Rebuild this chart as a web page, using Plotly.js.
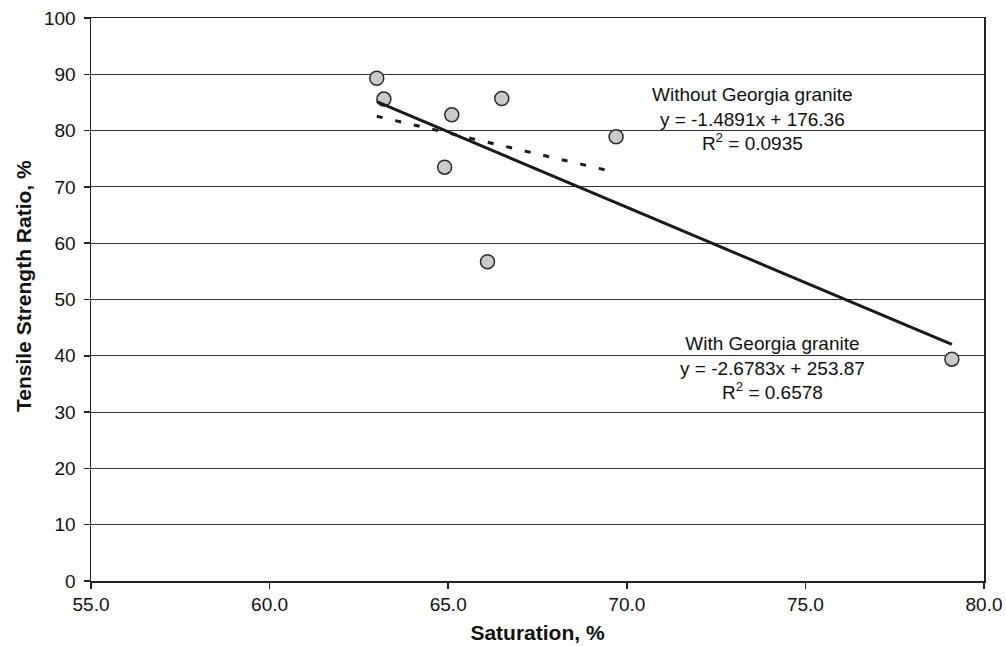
<!DOCTYPE html>
<html>
<head>
<meta charset="utf-8">
<script src="https://cdn.plot.ly/plotly-3.0.1.min.js"></script>
<style>
  html, body { margin: 0; padding: 0; background: #fff; }
  #chart { width: 1006px; height: 646px; }
</style>
</head>
<body>
<div id="chart"></div>
<script>
// Data
const saturation = [63.0, 63.2, 65.1, 66.5, 69.7, 64.9, 66.1, 79.1];
const tensileRatio = [89.3, 85.6, 82.8, 85.7, 78.9, 73.5, 56.7, 39.4];
const isGeorgia = [false, false, false, false, false, false, false, true];

// Trend lines as reported on the chart
const fitNames = ["With Georgia granite", "Without Georgia granite"];
const fitSlopes = [-2.6783, -1.4891];
const fitIntercepts = [253.87, 176.36];
const fitR2 = ["0.6578", "0.0935"];
const fitIncludesGeorgia = [true, false];

const xTicks = [55, 60, 65, 70, 75, 80];
const xTickText = ["55.0", "60.0", "65.0", "70.0", "75.0", "80.0"];
const yTicks = [0, 10, 20, 30, 40, 50, 60, 70, 80, 90, 100];
const xTitle = 'Saturation, %';
const yTitle = 'Tensile Strength Ratio, %';

const FONT = '"Liberation Sans", Arial, Helvetica, sans-serif';

function fitLine(i) {
  const xs = saturation.filter((x, k) => fitIncludesGeorgia[i] || !isGeorgia[k]);
  const x0 = Math.min(...xs), x1 = Math.max(...xs);
  return {
    x: [x0, x1],
    y: [fitSlopes[i] * x0 + fitIntercepts[i], fitSlopes[i] * x1 + fitIntercepts[i]]
  };
}

const withFit = fitLine(0);
const withoutFit = fitLine(1);

const traces = [
  {
    x: saturation, y: tensileRatio, type: 'scatter', mode: 'markers',
    marker: { size: 14, color: '#c9cacc', line: { color: '#2a2a2a', width: 1.5 } },
    showlegend: false
  },
  {
    x: withFit.x, y: withFit.y, type: 'scatter', mode: 'lines',
    line: { color: '#1a1a1a', width: 3 }, hoverinfo: 'skip', showlegend: false
  },
  {
    x: withoutFit.x, y: withoutFit.y, type: 'scatter', mode: 'lines',
    line: { color: '#1a1a1a', width: 3, dash: '6px,13px' }, hoverinfo: 'skip', showlegend: false
  }
];

function fitText(i) {
  const sign = fitIntercepts[i] >= 0 ? '+' : '-';
  return fitNames[i] + '<br>y = ' + fitSlopes[i].toFixed(4) + 'x ' + sign + ' ' +
    Math.abs(fitIntercepts[i]).toFixed(2) + '<br>R<sup>2</sup> = ' + fitR2[i];
}

const layout = {
  width: 1006, height: 646,
  margin: { l: 91, r: 22, t: 18, b: 65 },
  paper_bgcolor: '#ffffff', plot_bgcolor: '#ffffff',
  font: { family: FONT, color: '#111111', size: 19 },
  xaxis: {
    range: [55, 80], tickvals: xTicks, ticktext: xTickText,
    showgrid: false, zeroline: false,
    showline: true, linecolor: '#222222', linewidth: 1.5, mirror: true,
    ticks: 'outside', ticklen: 6, tickcolor: '#222222', tickwidth: 1.5,
    tickfont: { family: FONT, size: 19, color: '#111111' },
    title: { text: xTitle, font: { family: FONT, size: 21, weight: 'bold', color: '#111111' }, standoff: 11 }
  },
  yaxis: {
    range: [0, 100], tickvals: yTicks,
    showgrid: true, gridcolor: '#333333', gridwidth: 1, zeroline: false,
    showline: true, linecolor: '#222222', linewidth: 1.5, mirror: true,
    ticks: 'outside', ticklen: 6, tickcolor: '#222222', tickwidth: 1.5,
    ticklabelstandoff: 4,
    tickfont: { family: FONT, size: 19, color: '#111111' }
  },
  annotations: [
    {
      x: 73.52, y: 82.0, xref: 'x', yref: 'y', text: fitText(1), showarrow: false,
      xanchor: 'center', yanchor: 'middle', align: 'center',
      font: { family: FONT, size: 19, color: '#111111' }
    },
    {
      x: 74.08, y: 37.8, xref: 'x', yref: 'y', text: fitText(0), showarrow: false,
      xanchor: 'center', yanchor: 'middle', align: 'center',
      font: { family: FONT, size: 19, color: '#111111' }
    },
    {
      // y-axis title, positioned below from pixel coordinates
      x: 0, y: 0, xref: 'paper', yref: 'paper', text: yTitle, showarrow: false,
      textangle: -90, xanchor: 'center', yanchor: 'middle',
      font: { family: FONT, size: 21, weight: 'bold', color: '#111111' }
    }
  ]
};

// convert pixel placement of the y title into paper coordinates
const plotW = layout.width - layout.margin.l - layout.margin.r;
const plotH = layout.height - layout.margin.t - layout.margin.b;
const yt = layout.annotations[2];
yt.x = (23 - layout.margin.l) / plotW;
yt.y = (layout.height - layout.margin.b - 286) / plotH;

Plotly.newPlot('chart', traces, layout, { staticPlot: true, displayModeBar: false });
</script>
</body>
</html>
